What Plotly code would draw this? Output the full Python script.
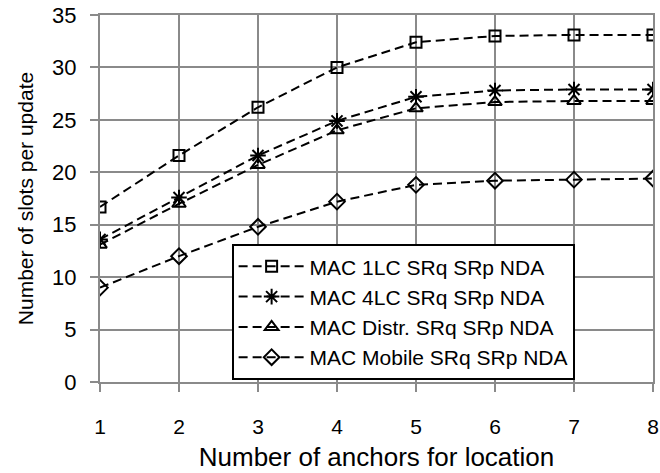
import plotly.graph_objects as go

# Number of anchors used for location
anchors = [1, 2, 3, 4, 5, 6, 7, 8]

# Slots per update for each MAC variant
mac_1lc = [16.7, 21.6, 26.2, 30.0, 32.4, 33.0, 33.1, 33.1]
mac_4lc = [13.6, 17.6, 21.6, 24.9, 27.2, 27.8, 27.9, 27.9]
mac_distr = [13.1, 17.0, 20.7, 24.0, 26.1, 26.7, 26.8, 26.8]
mac_mobile = [9.0, 12.0, 14.8, 17.2, 18.8, 19.2, 19.3, 19.4]

series_names = [
    "MAC 1LC SRq SRp NDA",
    "MAC 4LC SRq SRp NDA",
    "MAC Distr. SRq SRp NDA",
    "MAC Mobile SRq SRp NDA",
]
y_ticks = [0, 5, 10, 15, 20, 25, 30, 35]

FONT = "Liberation Sans, Arial, sans-serif"
GRID = "#8a8a8a"

fig = go.Figure()
styles = [
    ("square-open", 11),
    ("asterisk-open", 13),
    ("triangle-up-open", 12),
    ("diamond-open", 12),
]
for name, values, (symbol, size) in zip(
    series_names, [mac_1lc, mac_4lc, mac_distr, mac_mobile], styles
):
    fig.add_trace(
        go.Scatter(
            x=anchors,
            y=values,
            name=name,
            mode="lines+markers",
            line=dict(color="black", width=2, dash="9px,5px"),
            marker=dict(symbol=symbol, size=size, color="black",
                        line=dict(color="black", width=2)),
        )
    )

fig.update_layout(
    width=660,
    height=473,
    margin=dict(l=100, r=7, t=15, b=91, autoexpand=False),
    plot_bgcolor="white",
    paper_bgcolor="white",
    font=dict(family=FONT, size=21, color="black"),
    legend=dict(
        x=0.238, y=0.005, xanchor="left", yanchor="bottom",
        bgcolor="white", bordercolor="black", borderwidth=2,
        font=dict(family=FONT, size=21),
        itemwidth=66, tracegroupgap=0,
    ),
    xaxis=dict(
        range=[1, 8],
        tickvals=anchors,
        tickfont=dict(family=FONT, size=21),
        showgrid=True, gridcolor=GRID, gridwidth=2,
        showline=True, mirror=True, linecolor=GRID, linewidth=2,
        ticks="outside", ticklen=8, tickwidth=2, tickcolor=GRID,
        ticklabelstandoff=17,
        zeroline=False,
        title=dict(text="Number of anchors for location", standoff=11,
                   font=dict(family=FONT, size=26)),
    ),
    yaxis=dict(
        range=[0, 35],
        tickvals=y_ticks,
        tickfont=dict(family=FONT, size=22),
        showgrid=True, gridcolor=GRID, gridwidth=2,
        showline=True, mirror=True, linecolor=GRID, linewidth=2,
        ticks="outside", ticklen=8, tickwidth=2, tickcolor=GRID,
        ticklabelstandoff=9,
        zeroline=False,
        title=dict(text="Number of slots per update", standoff=13,
                   font=dict(family=FONT, size=21)),
    ),
)

fig.write_html("out.html")
